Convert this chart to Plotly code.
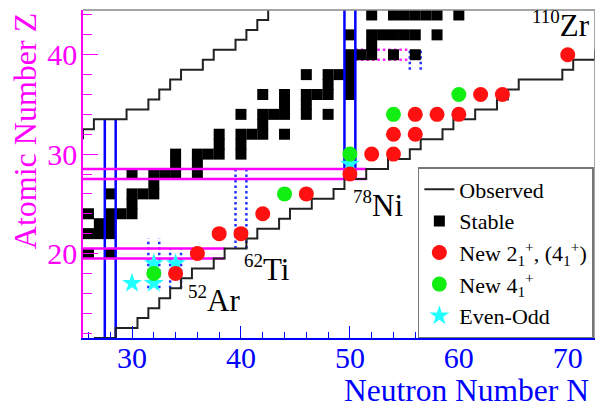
import plotly.graph_objects as go

# ---------------- data ----------------
# stable nuclei (N, Z)
stable_N = [26, 28,
            26, 27, 28,
            27, 28,
            26, 28, 29, 30,
            30,
            28, 30, 31, 32,
            32,
            30, 32, 33, 34, 36,
            34, 36,
            34, 36, 37, 38, 40,
            38, 40,
            38, 40, 41, 42, 44,
            42,
            40, 42, 43, 44, 46, 48,
            44, 46,
            42, 44, 46, 47, 48, 50,
            48, 50,
            46, 48, 49, 50,
            50,
            50, 51, 52, 54, 56,
            52,
            50, 52, 53, 54, 55, 56, 58,
            52, 54, 55, 56, 57, 58, 60]
stable_Z = [20, 20,
            22, 22, 22,
            23, 23,
            24, 24, 24, 24,
            25,
            26, 26, 26, 26,
            27,
            28, 28, 28, 28, 28,
            29, 29,
            30, 30, 30, 30, 30,
            31, 31,
            32, 32, 32, 32, 32,
            33,
            34, 34, 34, 34, 34, 34,
            35, 35,
            36, 36, 36, 36, 36, 36,
            37, 37,
            38, 38, 38, 38,
            39,
            40, 40, 40, 40, 40,
            41,
            42, 42, 42, 42, 42, 42, 42,
            44, 44, 44, 44, 44, 44, 44]

# observed limits: lightest observed N (proton-rich side) per Z
light_Z = [32, 33, 34, 35, 36, 37, 38, 39, 40, 41, 42, 43, 44]
light_minN = [26, 27, 30, 32, 33, 34, 35, 37, 38, 40, 41, 42, 43]
# heaviest observed N (neutron-rich side) per Z
heavy_Z = [11, 12, 13, 14, 15, 16, 17, 18, 19, 20, 21, 22, 23, 24, 25,
           26, 27, 28, 29, 30, 31, 32, 33, 34, 35, 36, 37, 38, 39, 40]
heavy_maxN = [26, 28, 30, 31, 32, 33, 34, 35, 37, 38, 40, 41, 43, 44, 46,
              48, 49, 51, 53, 55, 56, 58, 59, 61, 63, 64, 65, 69, 70, 76]

# new 2+ (4+) measurements
red_N = [34, 36, 38, 40, 42, 46, 50, 52, 54, 54, 56, 56, 58, 60, 62, 64, 70]
red_Z = [18, 20, 22, 22, 24, 26, 28, 30, 30, 32, 32, 34, 34, 34, 36, 36, 40]
# new 4+ measurements
green_N = [32, 44, 50, 54, 60]
green_Z = [18, 26, 30, 34, 36]
# even-odd
star_N = [30, 32, 32, 34, 50]
star_Z = [17, 17, 19, 19, 29]

# magic numbers
magic_N = [28, 50]
magic_Z = [20, 28]
# sub-shell boxes (dotted)
sub_N = [32, 34, 40, 56]
sub_N_Zlo = [17, 17, 21, 39]
sub_N_Zhi = [21, 20, 28, 40]
sub_Z = [40]
sub_Z_Nlo = [51]
sub_Z_Nhi = [55]

# labels
label_text = ["52", "62", "78", "110"]
label_el = ["Ar", "Ti", "Ni", "Zr"]
label_N = [35.0, 40.1, 50.1, 66.5]
label_Z = [15.4, 18.5, 24.9, 43.0]

XR = [25.5, 72.5]
YR = [11.5, 44.5]
FONT = "Liberation Serif"

# ---------------- build ----------------
def clamp(v, r):
    return min(max(v, r[0]), r[1])

def steps(zs, ns, off):
    xs, ys = [], []
    for z, n in zip(zs, ns):
        xs += [clamp(n + off, XR), clamp(n + off, XR)]
        ys += [clamp(z - 0.5, YR), clamp(z + 0.5, YR)]
    return xs, ys

lx, ly = steps(light_Z, light_minN, -0.5)
hx, hy = steps(heavy_Z, heavy_maxN, 0.5)

lmin = dict(zip(light_Z, light_minN))
hmax = dict(zip(heavy_Z, heavy_maxN))

fig = go.Figure()

# dotted sub-shell markers
dx, dy = [], []
for n, z0, z1 in zip(sub_N, sub_N_Zlo, sub_N_Zhi):
    for o in (-0.5, 0.5):
        dx += [n + o, n + o, None]
        dy += [z0 - 0.5, z1 + 0.5, None]
fig.add_trace(go.Scatter(x=dx, y=dy, mode="lines", showlegend=False, hoverinfo="skip",
                         line=dict(color="#2233ff", width=2.5, dash="2.5px,3px", simplify=False)))
mx, my = [], []
for z, n0, n1 in zip(sub_Z, sub_Z_Nlo, sub_Z_Nhi):
    for o in (-0.5, 0.5):
        mx += [n0 - 0.5, n1 + 0.5, None]
        my += [z + o, z + o, None]
fig.add_trace(go.Scatter(x=mx, y=my, mode="lines", showlegend=False, hoverinfo="skip",
                         line=dict(color="#ff22ff", width=2.5, dash="2.5px,3px", simplify=False)))

# stable squares
fig.add_trace(go.Scatter(x=stable_N, y=stable_Z, mode="markers", name="Stable",
                         legendrank=2,
                         marker=dict(symbol="square", size=11, color="black", line=dict(width=0))))

# magic lines (span the observed region)
bx, by = [], []
for n in magic_N:
    zs_lo = [z for z in heavy_Z if hmax[z] >= n]
    zs_hi = [z for z in light_Z if lmin[z] <= n]
    zlo = clamp(min(zs_lo) - 0.5, YR)
    zhi = YR[1] if max(zs_hi) == max(light_Z) else max(zs_hi) + 0.5
    for o in (-0.5, 0.5):
        bx += [n + o, n + o, None]
        by += [zlo, zhi, None]
fig.add_trace(go.Scatter(x=bx, y=by, mode="lines", showlegend=False, hoverinfo="skip",
                         line=dict(color="#0000ff", width=2.5, simplify=False)))
px_, py_ = [], []
for z in magic_Z:
    nhi = hmax[z] + 0.5
    for o in (-0.5, 0.5):
        px_ += [XR[0], nhi, None]
        py_ += [z + o, z + o, None]
fig.add_trace(go.Scatter(x=px_, y=py_, mode="lines", showlegend=False, hoverinfo="skip",
                         line=dict(color="#ff00ff", width=2.5, simplify=False)))

# observed boundaries
fig.add_trace(go.Scatter(x=lx, y=ly, mode="lines", name="Observed", legendrank=1,
                         legendgroup="obs", line=dict(color="#222222", width=2, simplify=False)))
fig.add_trace(go.Scatter(x=hx, y=hy, mode="lines", name="Observed", showlegend=False,
                         legendgroup="obs", line=dict(color="#222222", width=2, simplify=False)))

# even-odd stars
fig.add_trace(go.Scatter(x=star_N, y=star_Z, mode="markers", name="Even-Odd", legendrank=5,
                         marker=dict(symbol="star", size=15, color="#22ffff", line=dict(width=0))))
# green
fig.add_trace(go.Scatter(x=green_N, y=green_Z, mode="markers",
                         name="New 4<sub>1</sub><sup>+</sup>", legendrank=4,
                         marker=dict(symbol="circle", size=15, color="#11ee11", line=dict(width=0))))
# red
fig.add_trace(go.Scatter(x=red_N, y=red_Z, mode="markers",
                         name="New 2<sub>1</sub><sup>+</sup>, (4<sub>1</sub><sup>+</sup>)", legendrank=3,
                         marker=dict(symbol="circle", size=15, color="#ff1111", line=dict(width=0))))

annotations = []
for a, el, n, z in zip(label_text, label_el, label_N, label_Z):
    annotations.append(dict(x=n, y=z, xref="x", yref="y", xanchor="left", yanchor="middle",
                            showarrow=False,
                            text="<sup><span style='font-size:19px'>%s</span></sup>%s" % (a, el),
                            font=dict(family=FONT, size=31, color="black")))
annotations.append(dict(x=-0.113, y=0.631, xref="paper", yref="paper", textangle=-90,
                        showarrow=False, text="Atomic Number Z", xanchor="center", yanchor="middle",
                        font=dict(family=FONT, size=32, color="#ff00ff")))
annotations.append(dict(x=0.993, y=-0.160, xref="paper", yref="paper",
                        showarrow=False, text="Neutron Number N", xanchor="right", yanchor="middle",
                        font=dict(family=FONT, size=31.5, color="#0000ff")))

fig.update_layout(
    width=595, height=407,
    margin=dict(l=83, r=0, t=10, b=69, autoexpand=False),
    paper_bgcolor="white", plot_bgcolor="white",
    font=dict(family=FONT, color="black"),
    showlegend=True,
    legend=dict(x=0.654, y=0, xanchor="left", yanchor="bottom", bgcolor="white",
                bordercolor="#777777", borderwidth=1.5, font=dict(family=FONT, size=22, color="black"),
                tracegroupgap=0, itemwidth=30),
    xaxis=dict(range=XR, showgrid=False, zeroline=False, showline=True, linecolor="#0000ff",
               linewidth=1.5, ticks="inside", ticklen=12, tickwidth=1.2, tickcolor="#0000ff",
               tick0=0, dtick=10, ticklabelstandoff=-8,
               tickfont=dict(family=FONT, size=30, color="#0000ff"),
               minor=dict(ticks="inside", ticklen=6, tickcolor="#0000ff", tick0=0, dtick=2, showgrid=False)),
    yaxis=dict(range=YR, showgrid=False, zeroline=False, showline=True, linecolor="#ff00ff",
               linewidth=1.5, ticks="inside", ticklen=15, tickwidth=1.2, tickcolor="#ff00ff",
               tick0=0, dtick=10, ticklabelstandoff=-2,
               tickfont=dict(family=FONT, size=30, color="#ff00ff"),
               minor=dict(ticks="inside", ticklen=9, tickcolor="#ff00ff", tick0=0, dtick=2, showgrid=False)),
    annotations=annotations,
    shapes=[dict(type="line", xref="paper", yref="paper", x0=0, x1=1, y0=1, y1=1,
                 line=dict(color="#888888", width=1.5)),
            dict(type="line", xref="paper", yref="paper", x0=1, x1=1, y0=0, y1=1,
                 line=dict(color="#888888", width=1.5))],
)

fig.write_html("out.html")
